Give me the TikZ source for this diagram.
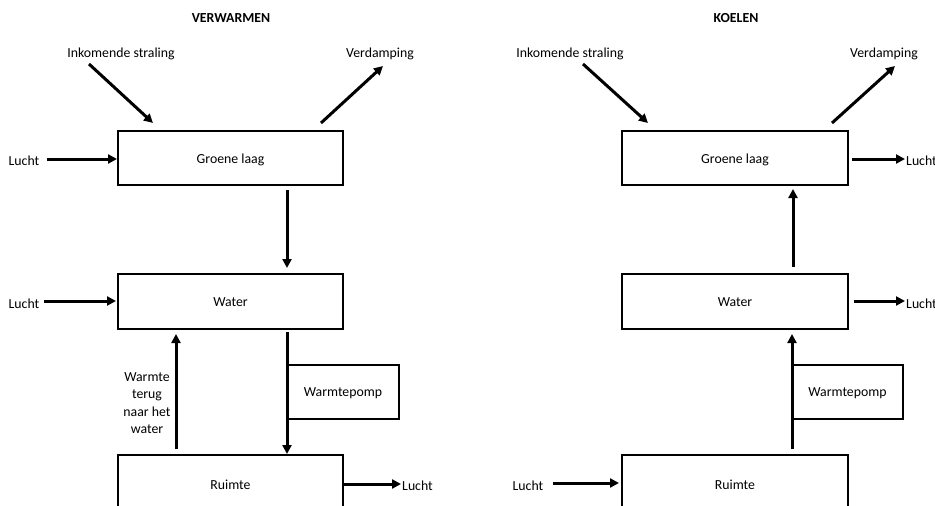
\documentclass[tikz,border=0pt]{standalone}
\usepackage{fontspec}
\setmainfont{Carlito}
\usetikzlibrary{arrows.meta}
\begin{document}
\begin{tikzpicture}[x=1pt,y=-1pt,
  bx/.style={line width=2pt},
  lbl/.style={font=\fontsize{13.8}{16}\selectfont,inner sep=0pt,yshift=-1.5pt},
  ttl/.style={font=\fontsize{13.8}{16}\selectfont\bfseries,inner sep=0pt,yshift=-1.5pt},
  arr/.style={line width=3pt,-{Triangle[length=9pt,width=9pt]}},
  txt/.style={font=\fontsize{13.8}{16}\selectfont,align=center,inner sep=0pt,yshift=-1pt}]
\useasboundingbox (0,0) rectangle (935,506);
\clip (0,0) rectangle (935,506);
% ---------- left panel: VERWARMEN ----------
\node[ttl] (t1) at (231,17) {VERWARMEN};
\node[lbl] (ink1) at (121,52) {Inkomende straling};
\node[lbl] (ver1) at (380,52) {Verdamping};
\draw[bx] (118,131) rectangle (343,185);
\node[lbl] (g1) at (230.5,158) {Groene laag};
\coordinate (g1top1) at (153,123);
\coordinate (g1top2) at (321,123);
\coordinate (ink1s) at (89,64);
\coordinate (ver1e) at (383,66);
\draw[arr] (ink1s) -- (g1top1);
\draw[arr] (g1top2) -- (ver1e);
\node[lbl] (lu1) at (24,159) {Lucht};
\coordinate (lu1s) at (47,159);
\coordinate (g1l) at (117,159);
\draw[arr] (lu1s) -- (g1l);
\coordinate (g1b) at (287,190);
\coordinate (w1t) at (287,268);
\draw[arr] (g1b) -- (w1t);
\draw[bx] (118,274) rectangle (343,329);
\node[lbl] (w1) at (230.5,301) {Water};
\node[lbl] (lu2) at (24,302) {Lucht};
\coordinate (lu2s) at (44,301);
\coordinate (w1l) at (116,301);
\draw[arr] (lu2s) -- (w1l);
\coordinate (r1a) at (176,449);
\coordinate (w1b) at (176,334);
\draw[arr] (r1a) -- (w1b);
\node[txt] (wt) at (147,402) {Warmte\\[1.5pt]terug\\[1.5pt]naar het\\[1.5pt]water};
\coordinate (w1b2) at (287,332);
\coordinate (r1t) at (287,454);
\draw[arr] (w1b2) -- (r1t);
\draw[bx] (288,365) rectangle (399,419);
\node[lbl] (wp1) at (343,392) {Warmtepomp};
\draw[bx] (118,455) rectangle (343,540);
\node[lbl] (r1) at (230.5,483) {Ruimte};
\coordinate (r1r) at (344,484);
\coordinate (lu3e) at (401,484);
\draw[arr] (r1r) -- (lu3e);
\node[lbl,anchor=west] (lu3) at (402,484) {Lucht};
% ---------- right panel: KOELEN ----------
\node[ttl] (t2) at (736,17) {KOELEN};
\node[lbl] (ink2) at (570,52) {Inkomende straling};
\node[lbl] (ver2) at (884,52) {Verdamping};
\draw[bx] (622,131) rectangle (848,185);
\node[lbl] (g2) at (735,158) {Groene laag};
\coordinate (ink2s) at (583,64);
\coordinate (g2top1) at (648,123);
\coordinate (g2top2) at (832,123);
\coordinate (ver2e) at (895,66);
\draw[arr] (ink2s) -- (g2top1);
\draw[arr] (g2top2) -- (ver2e);
\coordinate (g2r) at (852,159);
\coordinate (lu4e) at (905,159);
\draw[arr] (g2r) -- (lu4e);
\node[lbl,anchor=west] (lu4) at (906,159) {Lucht};
\coordinate (w2t) at (793,267);
\coordinate (g2b) at (793,189);
\draw[arr] (w2t) -- (g2b);
\draw[bx] (622,274) rectangle (848,329);
\node[lbl] (w2) at (735,301) {Water};
\coordinate (w2r) at (854,301);
\coordinate (lu5e) at (905,301);
\draw[arr] (w2r) -- (lu5e);
\node[lbl,anchor=west] (lu5) at (906,302) {Lucht};
\coordinate (r2t) at (792,449);
\coordinate (w2b) at (792,334);
\draw[arr] (r2t) -- (w2b);
\draw[bx] (792,365) rectangle (903,419);
\node[lbl] (wp2) at (847.5,392) {Warmtepomp};
\draw[bx] (622,455) rectangle (848,540);
\node[lbl] (r2) at (735,483) {Ruimte};
\node[lbl] (lu6) at (528,484) {Lucht};
\coordinate (lu6s) at (553,483);
\coordinate (r2l) at (619,483);
\draw[arr] (lu6s) -- (r2l);
\end{tikzpicture}
\end{document}
